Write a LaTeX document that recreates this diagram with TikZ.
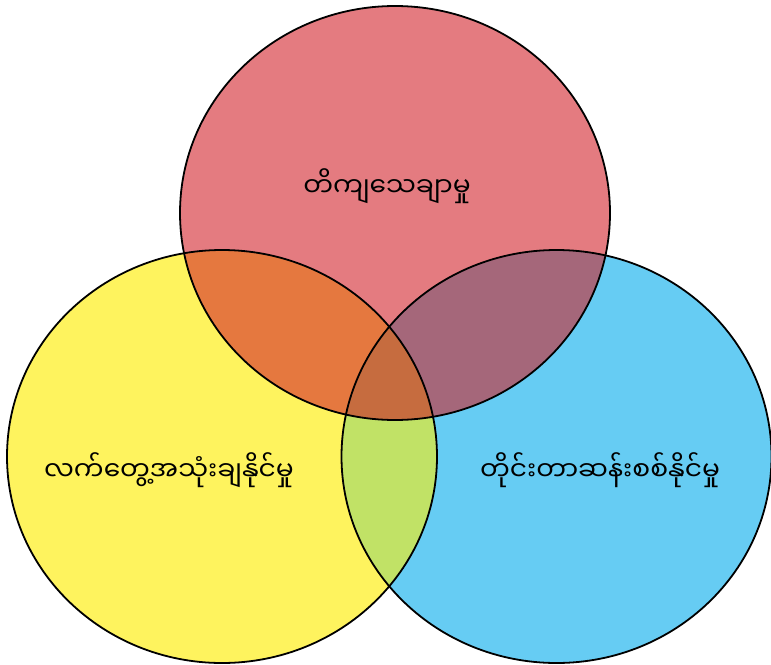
\documentclass[tikz,border=0pt]{standalone}
\usepackage{fontspec}
\newfontfamily\mmfont[Script=Myanmar]{Noto Sans Myanmar UI}
\usepackage{tikz}
\usetikzlibrary{positioning}
\definecolor{setred}{HTML}{E47B80}
\definecolor{setyellow}{HTML}{FEF35E}
\definecolor{setblue}{HTML}{66CCF3}
\definecolor{redyellow}{HTML}{E5783F}
\definecolor{redblue}{HTML}{A5677A}
\definecolor{yellowblue}{HTML}{C1E266}
\definecolor{allthree}{HTML}{C66C3F}
\tikzset{
  rim/.style={draw=black, line width=1.8pt},
  setlabel/.style={font=\mmfont\fontsize{26.5}{31}\selectfont, align=center},
}
\newcommand{\topset}{(395,213) ellipse [x radius=215, y radius=207]}
\newcommand{\leftset}{(222,456.5) ellipse [x radius=215, y radius=206.5]}
\newcommand{\rightset}{(556.5,456.5) ellipse [x radius=215, y radius=206.5]}

\begin{document}
\begin{tikzpicture}[x=1pt, y=-1pt]
  \useasboundingbox (0,0) rectangle (771,664);

  % plain sets
  \fill[setred] \topset;
  \fill[setyellow] \leftset;
  \fill[setblue] \rightset;

  % overlaps
  \begin{scope}
    \clip \topset;
    \fill[redyellow] \leftset;
    \fill[redblue] \rightset;
  \end{scope}
  \begin{scope}
    \clip \leftset;
    \fill[yellowblue] \rightset;
    \clip \rightset;
    \fill[allthree] \topset;
  \end{scope}

  % outlines
  \draw[rim] \topset;
  \draw[rim] \leftset;
  \draw[rim] \rightset;

  \node[setlabel] (accurate) at (387,186) {တိကျသေချာမှု};
  \node[setlabel] (practical) at (169,470) {လက်တွေ့အသုံးချနိုင်မှု};
  \node[setlabel] (measurable) at (600,470) {တိုင်းတာဆန်းစစ်နိုင်မှု};
\end{tikzpicture}
\end{document}
